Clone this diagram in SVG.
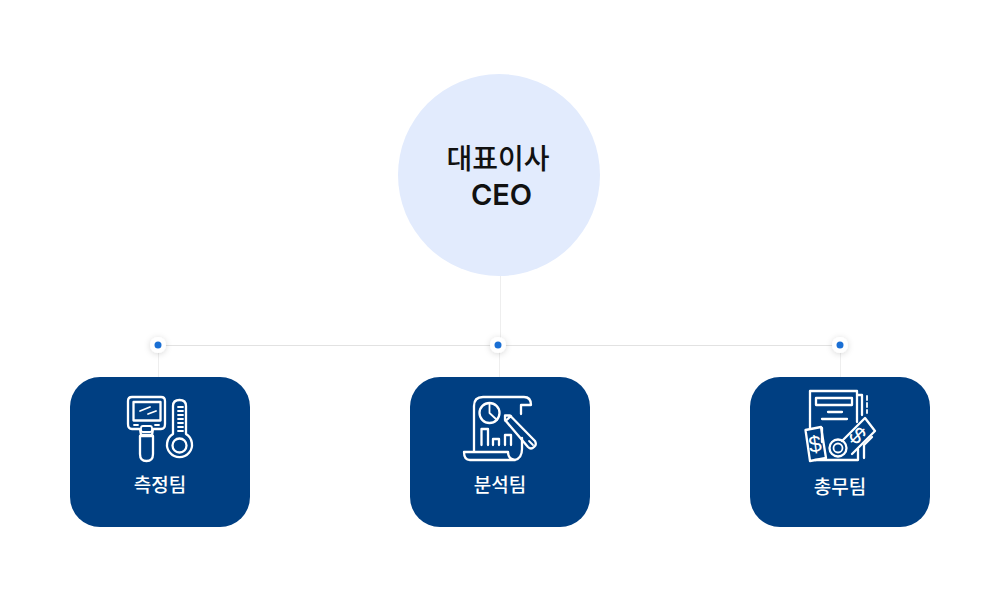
<svg xmlns="http://www.w3.org/2000/svg" width="1000" height="600" viewBox="0 0 1000 600">
<defs>
<filter id="glow" x="-100%" y="-100%" width="300%" height="300%"><feDropShadow dx="0" dy="1" stdDeviation="3" flood-color="#000" flood-opacity="0.16"/></filter>
</defs>
<style>
.ln{stroke:#e2e2e2;stroke-width:1;fill:none}
.lv{stroke:#eeeeee;stroke-width:1;fill:none}
.box{fill:#003f82}
.ic{fill:none;stroke:#fff;stroke-width:2.300;stroke-linecap:round;stroke-linejoin:round}
.ict{fill:none;stroke:#fff;stroke-width:1.800;stroke-linecap:round;stroke-linejoin:round}
.t{font-family:"Noto Sans CJK KR","Noto Sans",sans-serif;text-anchor:middle}
.lb{font-size:19px;font-weight:500;fill:#fff}
.ceo{font-size:28px;font-weight:500;fill:#111}
.halo{fill:#fff;filter:url(#glow)}
.dot{fill:#1a6fd4}
.usd{font-family:"Liberation Sans",sans-serif;font-size:23px;fill:#fff;text-anchor:middle}
</style>
<rect width="1000" height="600" fill="#fff"/>
<g id="connectors">
<path class="lv" d="M500.500 276V345M158.500 345V377M499.500 345V377M840.500 345V377"/>
<path class="ln" d="M158 345.500H840"/>
</g>
<g id="junctions">
<circle class="halo" cx="158" cy="345" r="8"/><circle class="dot" cx="158" cy="345" r="3.500"/>
<circle class="halo" cx="498" cy="345" r="8"/><circle class="dot" cx="498" cy="345" r="3.500"/>
<circle class="halo" cx="840" cy="345" r="8"/><circle class="dot" cx="840" cy="345" r="3.500"/>
</g>
<g id="ceo">
<circle cx="499" cy="175" r="101" fill="#e2ebfd"/>
<text class="t ceo" x="498" y="169">대표이사</text>
<text class="t ceo" x="501.500" y="205" style="font-family:Inter,'Noto Sans',sans-serif;font-weight:600;font-size:29px">CEO</text>
</g>
<g id="team-measure">
<rect class="box" x="70" y="377" width="180" height="150" rx="30"/>
<path class="ic" d="M132 397H161Q165 397 165 401V424Q165 429 161 429H153L152 435H141L140 429H132Q128 429 128 424V401Q128 397 132 397Z"/>
<rect class="ic" x="133.500" y="402" width="27" height="18.500"/>
<path class="ict" d="M140 411L150 407M148 414L156 411M134 425H138M155 425H159"/>
<rect class="ict" x="141" y="426" width="11" height="6" rx="2"/>
<path class="ic" d="M140 436H153V454Q153 461 146.500 461Q140 461 140 454Z"/>
<path class="ic" d="M173 434V406Q173 400 179.500 400Q186 400 186 406V434A12.500 12.500 0 1 1 173 434Z"/>
<circle class="ic" cx="179.500" cy="445.500" r="7"/>
<path class="ict" d="M178 407H183M178 411H183M178 415H183M178 419H183M178 423H183M178 427H183M178 431H183"/>
<text class="t lb" x="160" y="492">측정팀</text>
</g>
<g id="team-analysis">
<rect class="box" x="410" y="377" width="180" height="150" rx="30"/>
<path class="ic" d="M524 397H483Q474 397 474 406V451M524 397Q531 397 531 405H521V414M522 438V449Q522 458 515 460H470Q464 460 464 452H508Q508 459 515 460"/>
<circle class="ic" cx="489.500" cy="413" r="10"/>
<path class="ict" d="M489.500 403V413L497 420"/>
<path class="ic" d="M481.500 445V429H488V445M493 445V439H499V445M505 445V435H511V445"/>
<path class="ic" d="M505 420V415.500H510L535 441Q537 445 534 447Q531 450 528 447ZM505.500 421L511 416"/>
<path class="ict" d="M529 441L533 445"/>
<text class="t lb" x="500" y="492">분석팀</text>
</g>
<g id="team-general">
<rect class="box" x="750" y="377" width="180" height="150" rx="30"/>
<path class="ic" d="M810 428V391H857V422M857 395H862V415M816 398H852V405H816ZM828 412H842M822 419H847"/>
<path class="ict" d="M867 396V400M867 403V407M867 410V413"/>
<path class="ic" d="M805.500 430L821 427L826 458L810 461Z"/>
<text class="usd" x="815" y="452" transform="rotate(-8 815 444)">$</text>
<path class="ic" d="M842 441L865 418L875 431L852 454"/>
<circle class="ic" cx="838" cy="448" r="8.500"/>
<circle class="ict" cx="838" cy="448" r="4.500"/>
<text class="usd" x="857" y="443" transform="rotate(45 857 436)">$</text>
<path class="ic" d="M815 460H858V449M864 458V445L872 437M822 428V442"/>
<text class="t lb" x="840" y="494">총무팀</text>
</g>
</svg>
